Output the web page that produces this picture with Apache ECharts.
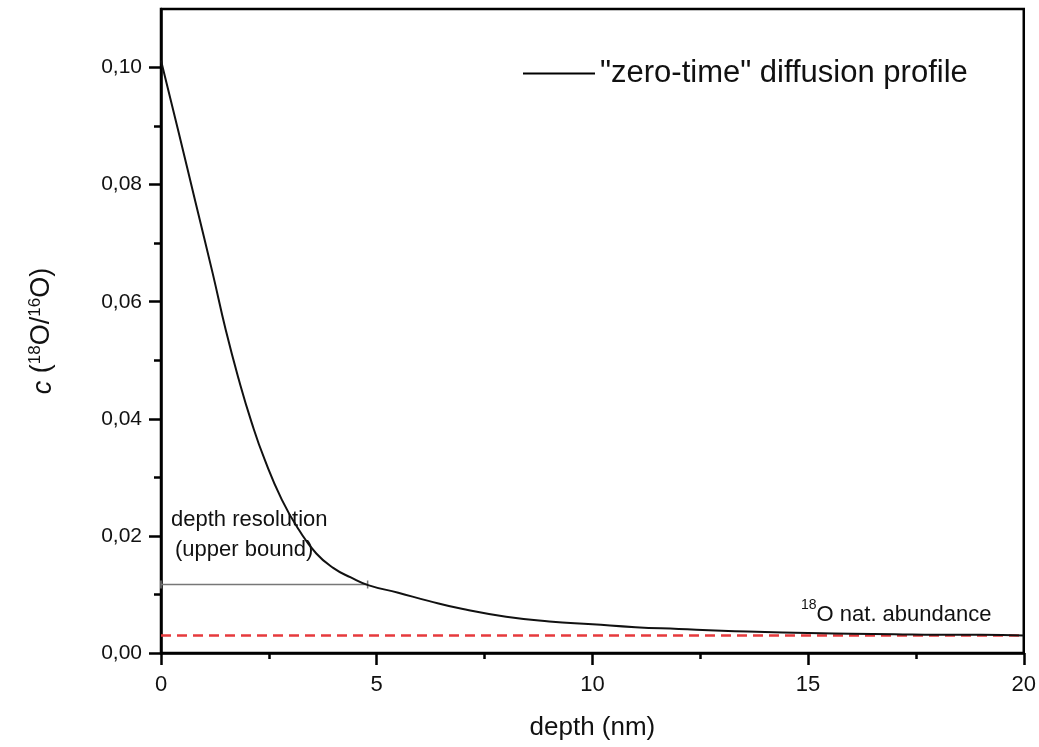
<!DOCTYPE html>
<html>
<head>
<meta charset="utf-8">
<script src="https://cdn.jsdelivr.net/npm/echarts@6/dist/echarts.min.js"></script>
<style>
html,body{margin:0;padding:0;background:#fff;}
#chart{width:1039px;height:747px;}
</style>
</head>
<body>
<div id="chart"></div>
<script>
// ---- data ----
const depthNm = [0, 0.4, 0.8, 1.2, 1.5, 1.8, 2.1, 2.4, 2.8, 3.2, 3.6, 4.0, 4.4, 4.8, 5.5, 6.2, 7.0, 8.0, 9.0, 10, 11, 12, 13, 14, 15, 16, 17, 18, 19, 20];
const concentration = [0.1012, 0.0892, 0.0770, 0.0648, 0.0552, 0.0468, 0.0394, 0.0331, 0.0262, 0.0210, 0.0170, 0.0145, 0.0129, 0.0116, 0.0103, 0.0089, 0.0075, 0.0062, 0.0054, 0.0049, 0.0044, 0.0041, 0.0038, 0.0036, 0.0034, 0.0033, 0.0032, 0.0031, 0.0031, 0.0030];
const natAbundanceX = [0, 20];
const natAbundance = 0.003;
const resolutionX = [0, 4.79];
const resolutionLevel = 0.0117;
const yMajorTicks = [0, 0.02, 0.04, 0.06, 0.08, 0.10];
const yMinorTicks = [0.01, 0.03, 0.05, 0.07, 0.09];
const seriesName = '"zero-time" diffusion profile';

const FONT = "'Liberation Sans', Arial, Helvetica, sans-serif";
const chart = echarts.init(document.getElementById('chart'), null, {renderer: 'canvas'});

const curveData = depthNm.map((d, i) => [d, concentration[i]]);
const natData = natAbundanceX.map(x => [x, natAbundance]);
const resData = resolutionX.map(x => [x, resolutionLevel]);

const fmt = v => v.toFixed(2).replace('.', ',');

const option = {
  animation: false,
  backgroundColor: '#fff',
  textStyle: {fontFamily: FONT},
  grid: {
    left: 161, right: 14.5, top: 9, bottom: 94,
    show: true, borderColor: '#000', borderWidth: 2.5, backgroundColor: 'transparent'
  },
  legend: {
    data: [seriesName],
    left: 523, top: 58, padding: 0,
    itemWidth: 72, itemHeight: 12,
    textStyle: {fontFamily: FONT, fontSize: 31, color: '#111'},
    icon: 'path://M0,5 L72,5 L72,7 L0,7 Z',
    itemStyle: {color: '#000'}
  },
  xAxis: {
    type: 'value', min: 0, max: 20, interval: 5,
    name: 'depth (nm)', nameLocation: 'middle', nameGap: 62,
    nameTextStyle: {fontFamily: FONT, fontSize: 26, color: '#111'},
    axisLine: {show: true, lineStyle: {color: '#000', width: 2.5}},
    axisTick: {show: true, length: 12, lineStyle: {color: '#000', width: 2.5}},
    minorTick: {show: true, splitNumber: 2, length: 6, lineStyle: {color: '#000', width: 2.5}},
    axisLabel: {fontFamily: FONT, fontSize: 22, color: '#111', margin: 21},
    splitLine: {show: false}, minorSplitLine: {show: false}
  },
  yAxis: [{
    type: 'value', min: 0, max: 0.11, position: 'left',
    name: '{i|c} ({sup|18}O/{sup|16}O)', nameLocation: 'middle', nameGap: 104, nameRotate: 90,
    nameTextStyle: {
      fontFamily: FONT, fontSize: 27, color: '#111',
      rich: {
        i: {fontFamily: FONT, fontSize: 27, fontStyle: 'italic', lineHeight: 30, verticalAlign: 'bottom', color: '#111'},
        sup: {fontFamily: FONT, fontSize: 17, lineHeight: 12, verticalAlign: 'top', color: '#111'}
      }
    },
    axisLine: {show: true, lineStyle: {color: '#000', width: 2.5}},
    axisTick: {show: true, length: 12, customValues: yMajorTicks, lineStyle: {color: '#000', width: 2.5}},
    axisLabel: {fontFamily: FONT, fontSize: 21, color: '#111', margin: 19, customValues: yMajorTicks, formatter: fmt},
    splitLine: {show: false}
  }, {
    type: 'value', min: 0, max: 0.11, position: 'left', offset: 0,
    axisLine: {show: false},
    axisTick: {show: true, length: 7, customValues: yMinorTicks, lineStyle: {color: '#000', width: 2.5}},
    axisLabel: {show: false},
    splitLine: {show: false}
  }],
  series: [
    {
      name: 'nat',
      type: 'line', data: natData, symbol: 'none', silent: true,
      lineStyle: {color: '#e63a3d', width: 2.5, type: [10, 6]},
      z: 2
    },
    {
      name: 'res',
      type: 'line', data: resData, symbol: 'rect', symbolSize: [1.5, 8], silent: true,
      itemStyle: {color: '#777'},
      lineStyle: {color: '#777', width: 1.5},
      z: 3
    },
    {
      name: seriesName,
      type: 'line', data: curveData, symbol: 'none', smooth: 0.5,
      lineStyle: {color: '#111', width: 2},
      itemStyle: {color: '#111'},
      z: 4
    }
  ],
  graphic: [
    {type: 'text', left: 171, top: 509, style: {text: 'depth resolution', font: '22px ' + FONT, fill: '#111'}},
    {type: 'text', left: 175, top: 539, style: {text: '(upper bound)', font: '22px ' + FONT, fill: '#111'}},
    {type: 'text', left: 801, top: 598, style: {
      text: '{sup|18}{b|O nat. abundance}',
      fill: '#111',
      rich: {
        sup: {fontFamily: FONT, fontSize: 14, lineHeight: 10, verticalAlign: 'top', fill: '#111'},
        b: {fontFamily: FONT, fontSize: 22, lineHeight: 28, verticalAlign: 'bottom', fill: '#111'}
      }
    }}
  ]
};
chart.setOption(option);
</script>
</body>
</html>
